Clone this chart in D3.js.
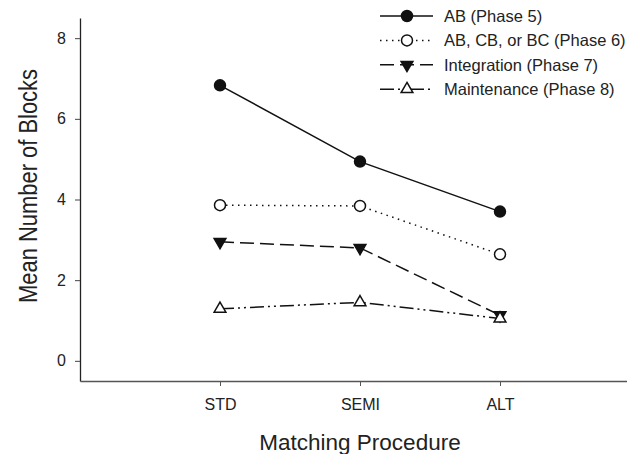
<!DOCTYPE html>
<html>
<head>
<meta charset="utf-8">
<script src="https://cdn.jsdelivr.net/npm/d3@7"></script>
<style>
html,body{margin:0;padding:0;background:#fff;}
svg{display:block;font-family:"Liberation Sans",Arial,Helvetica,sans-serif;}
</style>
</head>
<body>
<svg id="chart" width="627" height="454"></svg>
<script>
const categories = ["STD", "SEMI", "ALT"];
const seriesNames = ["AB (Phase 5)", "AB, CB, or BC (Phase 6)", "Integration (Phase 7)", "Maintenance (Phase 8)"];
const phase5 = [6.83, 4.94, 3.70];
const phase6 = [3.86, 3.84, 2.64];
const phase7 = [2.95, 2.80, 1.13];
const phase8 = [1.29, 1.45, 1.05];
const yTicks = [0, 2, 4, 6, 8];
const xTitle = "Matching Procedure";
const yTitle = "Mean Number of Blocks";

const series = [
  {name: seriesNames[0], values: phase5, dash: null, symbol: "circle", fill: "#111"},
  {name: seriesNames[1], values: phase6, dash: "1.5,4.5", symbol: "circle", fill: "#fff"},
  {name: seriesNames[2], values: phase7, dash: "14,6", symbol: "triDown", fill: "#111"},
  {name: seriesNames[3], values: phase8, dash: "14,4,2,4,2,4", symbol: "triUp", fill: "#fff"}
];

const svg = d3.select("#chart");
const x = d3.scaleLinear().domain([0, 4]).range([80, 640]);
const y = d3.scaleLinear().domain([-0.5, 8.5]).range([381, 18]);

// axes
const yAxis = svg.append("g").attr("transform", "translate(80,0)")
  .call(d3.axisLeft(y).tickValues(yTicks).tickSize(5).tickPadding(9).tickSizeOuter(0));
yAxis.select(".domain").attr("stroke", "#222").attr("stroke-width", 1.3);
yAxis.selectAll(".tick line").attr("stroke", "#444");
yAxis.selectAll("text").attr("font-size", 16).attr("fill", "#222");

const xAxis = svg.append("g").attr("transform", "translate(0,381)")
  .call(d3.axisBottom(x).tickValues([1, 2, 3]).tickFormat((d) => categories[d - 1]).tickSize(5).tickPadding(13).tickSizeOuter(0));
xAxis.select(".domain").attr("stroke", "#555").attr("stroke-width", 1.5);
xAxis.selectAll(".tick line").attr("stroke", "#555");
xAxis.selectAll("text").attr("font-size", 16).attr("fill", "#222");

svg.append("text").attr("x", 360).attr("y", 450).attr("text-anchor", "middle")
  .attr("font-size", 22.5).attr("fill", "#222").text(xTitle);
svg.append("text").attr("transform", "translate(37,186) rotate(-90)").attr("text-anchor", "middle")
  .attr("font-size", 26).attr("textLength", 234).attr("lengthAdjust", "spacingAndGlyphs")
  .attr("fill", "#222").text(yTitle);

const line = d3.line().x((d, i) => x(i + 1)).y((d) => y(d));

function symbolPath(kind) {
  if (kind === "circle") return d3.symbol().type(d3.symbolCircle).size(Math.PI * 5.5 * 5.5)();
  return d3.symbol().type(d3.symbolTriangle).size(60)();
}

function drawMarker(g, s, cx, cy) {
  const p = g.append("path").attr("d", symbolPath(s.symbol))
    .attr("fill", s.fill).attr("stroke", "#111").attr("stroke-width", 1.5);
  const rot = s.symbol === "triDown" ? " rotate(180)" : "";
  p.attr("transform", `translate(${cx},${cy})${rot}`);
}

series.forEach((s) => {
  svg.append("path").datum(s.values).attr("d", line)
    .attr("fill", "none").attr("stroke", "#111").attr("stroke-width", 1.5)
    .attr("stroke-dasharray", s.dash);
});
series.forEach((s) => {
  const g = svg.append("g");
  s.values.forEach((v, i) => drawMarker(g, s, x(i + 1), y(v)));
});

// legend
const legend = svg.append("g");
series.forEach((s, i) => {
  const ly = 16 + i * 24.4;
  legend.append("line").attr("x1", 380).attr("x2", 433).attr("y1", ly).attr("y2", ly)
    .attr("stroke", "#111").attr("stroke-width", 1.5).attr("stroke-dasharray", s.dash);
  drawMarker(legend, s, 407, ly);
  legend.append("text").attr("x", 444).attr("y", ly).attr("dy", "0.36em")
    .attr("font-size", 16.5).attr("fill", "#222").text(s.name);
});
</script>
</body>
</html>
